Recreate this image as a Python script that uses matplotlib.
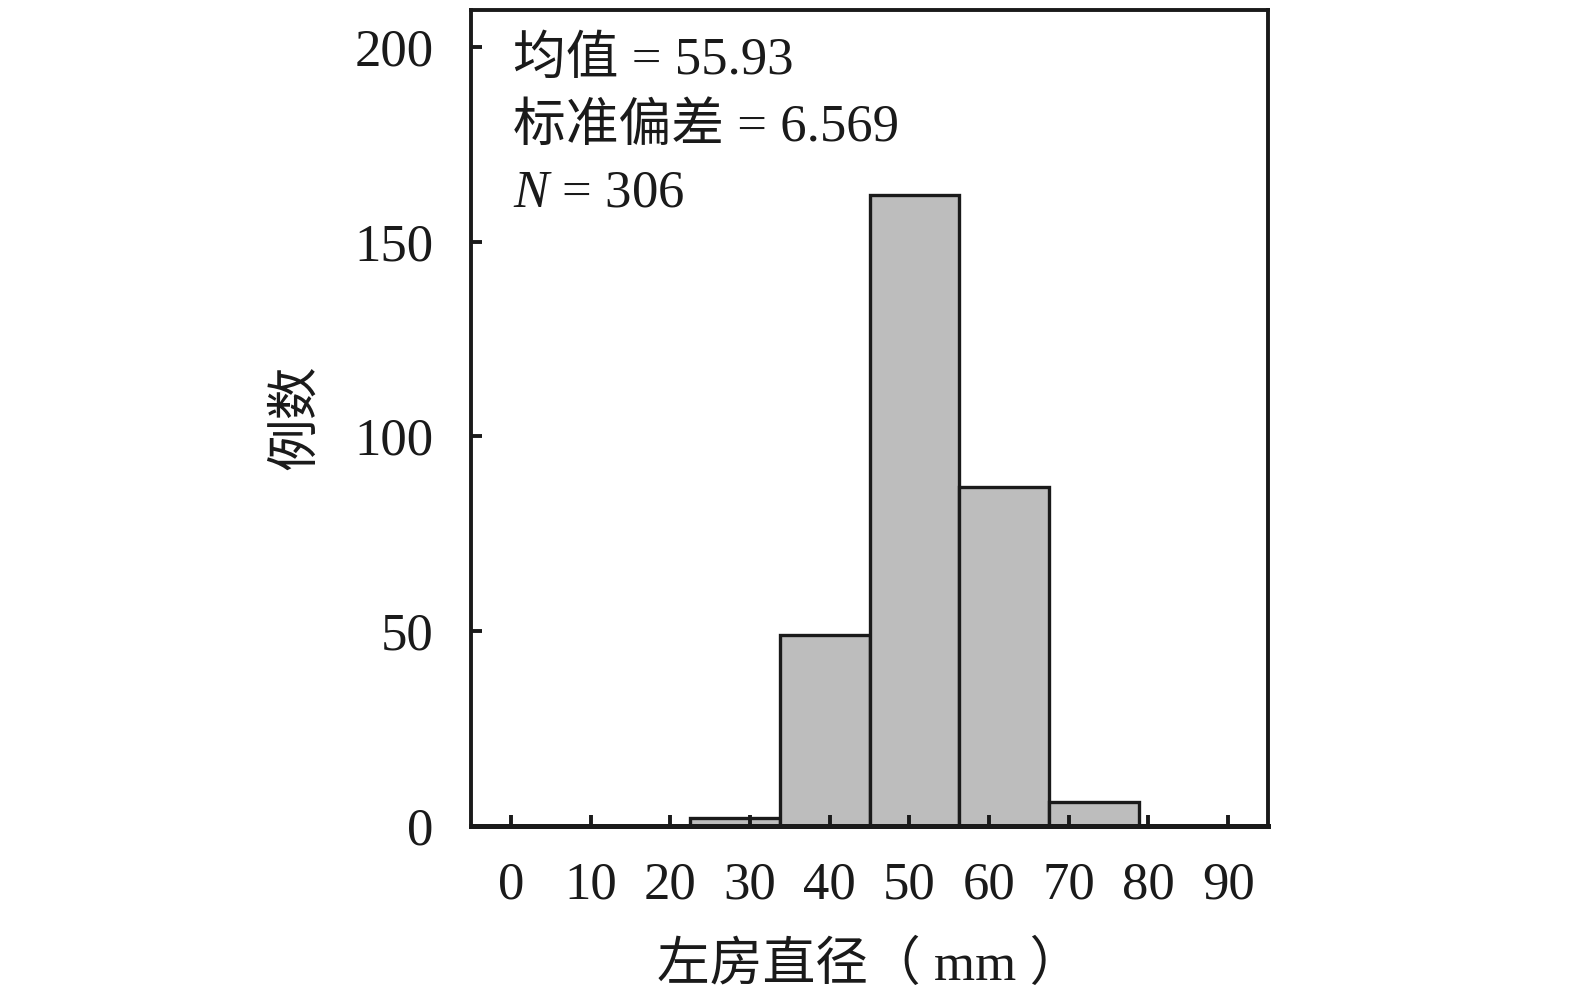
import numpy as np
import matplotlib
matplotlib.use('Agg')
import matplotlib.pyplot as plt

# histogram data
bin_edges = [0, 11.25, 22.5, 33.75, 45, 56.25, 67.5, 78.75, 90]
counts = [0, 0, 2, 49, 162, 87, 6, 0]
xticks = [0, 10, 20, 30, 40, 50, 60, 70, 80, 90]
yticks = [0, 50, 100, 150, 200]
stats_lines = ['均值 = 55.93', '标准偏差 = 6.569', r'$N$ = 306']

plt.rcParams['font.family'] = ['Liberation Serif', 'Noto Sans CJK SC']
plt.rcParams['mathtext.fontset'] = 'custom'
plt.rcParams['mathtext.rm'] = 'Liberation Serif'
plt.rcParams['mathtext.it'] = 'Liberation Serif:italic'

fig = plt.figure(figsize=(15.75, 10.02), dpi=100)
ax = fig.add_axes([0.2991, 0.1761, 0.506, 0.814])

edges = np.array(bin_edges)
ax.bar(edges[:-1], counts, width=np.diff(edges), align='edge',
       color='#bdbdbd', edgecolor='#1a1a1a', linewidth=2.4)

ax.set_xlim(-5, 95)
ax.set_ylim(0, 209.5)
ax.set_xticks(xticks)
ax.set_yticks(yticks)
ax.tick_params(direction='in', length=8, width=2.8, labelsize=38,
               colors='#1a1a1a')
ax.tick_params(axis='x', pad=26)
ax.tick_params(axis='y', pad=27)

for side, sp in ax.spines.items():
    sp.set_linewidth(2.8)
    sp.set_color('#1a1a1a')
ax.spines['bottom'].set_linewidth(3.6)

ax.set_xlabel('左房直径（ mm ）', fontsize=38, labelpad=22, color='#1a1a1a')
ax.set_ylabel('例数', fontsize=38, labelpad=24, color='#1a1a1a')

ypos = [0.938, 0.856, 0.775]
for s, yy in zip(stats_lines, ypos):
    ax.text(0.052, yy, s, transform=ax.transAxes, fontsize=38,
            va='center', ha='left', color='#1a1a1a')

fig.savefig('out.png', dpi=100)
